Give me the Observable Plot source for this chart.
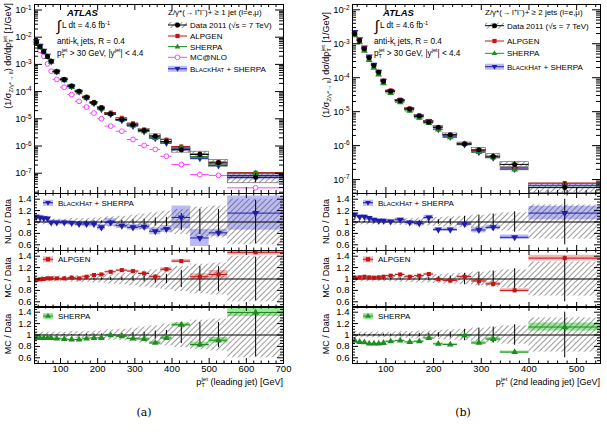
<!DOCTYPE html>
<html>
<head>
<meta charset="utf-8">
<script src="https://cdn.jsdelivr.net/npm/d3@7"></script>
<script src="https://cdn.jsdelivr.net/npm/@observablehq/plot@0.6"></script>
<style>
  body { margin: 0; background: #fff; }
  #fig { position: relative; width: 607px; height: 432px; overflow: hidden; }
  #fig svg { position: absolute; overflow: visible; }
</style>
</head>
<body>
<div id="fig"></div>
<script>
const FONT = "Liberation Sans, Arial, Helvetica, sans-serif";
const RED = "#c41414", RED_L = "#f6b4b4";
const GREEN = "#1f8c1f", GREEN_L = "#98e898";
const BLUE = "#1e1ea8", BLUE_L = "#babaf4";
const MAG = "#ff40ff";

// ---- (a) leading jet pT, Z + >= 1 jet ----
const edgesA = [30, 40, 50, 60, 70, 80, 100, 120, 140, 160, 180, 200, 220, 250, 280, 310, 340, 370, 400, 450, 500, 550, 700];
const dataA = [6.5e-3, 4.5e-3, 3.0e-3, 1.95e-3, 1.3e-3, 5.5e-4, 2.8e-4, 1.6e-4, 1.03e-4, 6.2e-5, 3.9e-5, 2.5e-5, 1.5e-5, 9.4e-6, 6.0e-6, 3.7e-6, 2.3e-6, 1.47e-6, 7.3e-7, 4.9e-7, 2.4e-7, 7.1e-8];
const systA = [0.05, 0.05, 0.05, 0.05, 0.05, 0.05, 0.05, 0.06, 0.06, 0.06, 0.07, 0.07, 0.09, 0.10, 0.12, 0.14, 0.16, 0.19, 0.22, 0.26, 0.28, 0.40];
const statA = [0.005, 0.005, 0.005, 0.005, 0.005, 0.005, 0.01, 0.01, 0.01, 0.015, 0.02, 0.02, 0.025, 0.03, 0.04, 0.05, 0.07, 0.08, 0.15, 0.22, 0.22, 0.38];
const mcnloA = [6.2e-3, 3.3e-3, 2.0e-3, 1.05e-3, 5.6e-4, 2.8e-4, 1.45e-4, 7.8e-5, 4.4e-5, 2.7e-5, 1.63e-5, 1.0e-5, 5.4e-6, 3.5e-6, 1.73e-6, 1.05e-6, 7.5e-7, 4.2e-7, 2.1e-7, 8.9e-8, 8.3e-8, 2.9e-8];
const bhRatioA = [1.092, 1.08, 1.065, 1.06, 0.993, 0.993, 0.993, 0.982, 0.965, 0.965, 0.965, 0.906, 0.993, 0.935, 0.906, 0.918, 0.837, 0.878, 1.08, 0.72, 0.81, 1.156];
const bhUncA = [0.04, 0.04, 0.04, 0.04, 0.04, 0.04, 0.04, 0.04, 0.04, 0.05, 0.05, 0.05, 0.07, 0.05, 0.05, 0.05, 0.06, 0.06, 0.20, 0.15, 0.06, 0.30];
const alpRatioA = [0.984, 0.994, 1.0, 1.011, 1.011, 1.011, 1.011, 1.023, 1.011, 1.04, 1.07, 1.08, 1.126, 1.155, 1.138, 1.097, 1.04, 1.17, 1.314, 1.04, 1.08, 1.468];
const alpUncA = [0.01, 0.01, 0.01, 0.01, 0.01, 0.01, 0.01, 0.01, 0.01, 0.01, 0.01, 0.01, 0.015, 0.015, 0.02, 0.02, 0.025, 0.03, 0.03, 0.05, 0.07, 0.05];
const sheRatioA = [0.948, 0.948, 0.948, 0.948, 0.948, 0.937, 0.931, 0.92, 0.92, 0.937, 0.948, 0.948, 0.995, 0.977, 0.937, 0.931, 0.861, 0.948, 1.18, 0.833, 0.908, 1.395];
const sheUncA = [0.01, 0.01, 0.01, 0.01, 0.01, 0.01, 0.01, 0.01, 0.01, 0.01, 0.01, 0.01, 0.015, 0.015, 0.02, 0.02, 0.025, 0.03, 0.03, 0.04, 0.05, 0.07];
const xTicksA = [100, 200, 300, 400, 500, 600, 700];
const yTicksA = [1e-1, 1e-2, 1e-3, 1e-4, 1e-5, 1e-6, 1e-7];

// ---- (b) second leading jet pT, Z + >= 2 jets ----
const edgesB = [30, 40, 50, 60, 70, 80, 90, 100, 120, 140, 160, 180, 200, 220, 250, 280, 310, 340, 400, 550];
const dataB = [1.96e-3, 1.25e-3, 7.1e-4, 3.9e-4, 2.3e-4, 1.45e-4, 7.9e-5, 4.0e-5, 2.1e-5, 1.2e-5, 7.4e-6, 4.9e-6, 3.5e-6, 2.1e-6, 1.12e-6, 7.5e-7, 4.9e-7, 2.8e-7, 5.8e-8];
const systB = [0.06, 0.05, 0.05, 0.05, 0.05, 0.05, 0.05, 0.05, 0.06, 0.06, 0.07, 0.07, 0.08, 0.09, 0.10, 0.12, 0.14, 0.16, 0.30];
const statB = [0.01, 0.01, 0.01, 0.01, 0.01, 0.01, 0.015, 0.015, 0.02, 0.02, 0.03, 0.03, 0.04, 0.05, 0.10, 0.12, 0.14, 0.18, 0.40];
const bhRatioB = [1.13, 1.092, 1.092, 1.07, 1.04, 1.023, 1.023, 1.01, 1.04, 0.993, 0.976, 1.08, 0.866, 0.866, 0.965, 0.86, 0.906, 0.732, 1.156];
const bhUncB = [0.03, 0.03, 0.03, 0.03, 0.03, 0.03, 0.03, 0.03, 0.03, 0.03, 0.04, 0.04, 0.03, 0.03, 0.03, 0.05, 0.04, 0.04, 0.12];
const alpRatioB = [1.02, 1.029, 1.04, 1.029, 1.023, 1.029, 1.04, 1.058, 1.08, 1.04, 1.058, 1.087, 0.994, 0.972, 1.04, 0.966, 0.915, 0.80, 1.366];
const alpUncB = [0.01, 0.01, 0.01, 0.01, 0.01, 0.01, 0.01, 0.01, 0.01, 0.01, 0.01, 0.015, 0.015, 0.02, 0.02, 0.03, 0.03, 0.03, 0.05];
const sheRatioB = [0.90, 0.878, 0.87, 0.85, 0.85, 0.85, 0.86, 0.89, 0.902, 0.878, 0.89, 0.948, 0.844, 0.833, 0.99, 0.861, 0.93, 0.70, 1.14];
const sheUncB = [0.01, 0.01, 0.01, 0.01, 0.01, 0.01, 0.01, 0.01, 0.01, 0.01, 0.01, 0.015, 0.015, 0.02, 0.02, 0.03, 0.03, 0.02, 0.07];
const xTicksB = [100, 200, 300, 400, 500];
const yTicksB = [1e-2, 1e-3, 1e-4, 1e-5, 1e-6, 1e-7];

const ratioTicks = [0.6, 0.8, 1, 1.2, 1.4];

function rowsOf(edges, cols) {
  return edges.slice(0, -1).map((lo, i) => {
    const r = {lo, hi: edges[i + 1], c: (lo + edges[i + 1]) / 2};
    for (const [k, arr] of Object.entries(cols)) r[k] = arr ? arr[i] : undefined;
    return r;
  });
}

// inverted triangle marker
const triangleDown = {
  draw(ctx, size) {
    const y = -Math.sqrt(size / (Math.sqrt(3) * 3));
    ctx.moveTo(0, -y * 2);
    ctx.lineTo(-Math.sqrt(3) * y, y);
    ctx.lineTo(Math.sqrt(3) * y, y);
    ctx.closePath();
  }
};

const figA = {
  left: 0, width: 300, mr: 17, xMax: 700, xTicks: xTicksA, yTicks: yTicksA,
  yDomain: [10 ** -7.746, 10 ** -0.798], mcnlo: true,
  rows: rowsOf(edgesA, {data: dataA, syst: systA, stat: statA, mcnlo: mcnloA, bh: bhRatioA, bhU: bhUncA, alp: alpRatioA, alpU: alpUncA, she: sheRatioA, sheU: sheUncA})
};
const figB = {
  left: 318, width: 289, mr: 7, xMax: 550, xTicks: xTicksB, yTicks: yTicksB,
  yDomain: [10 ** -7.41, 10 ** -1.844], mcnlo: false,
  rows: rowsOf(edgesB, {data: dataB, syst: systB, stat: statB, bh: bhRatioB, bhU: bhUncB, alp: alpRatioB, alpU: alpUncB, she: sheRatioB, sheU: sheUncB})
};

const ML = 34;

function tickMarks(innerW, innerH, xMaj, xMin, yMaj, yMin, L) {
  const s = {stroke: "black", strokeWidth: 1};
  return [
    Plot.ruleX(xMaj, {x: d => d, insetTop: innerH - L[0], ...s}),
    Plot.ruleX(xMaj, {x: d => d, insetBottom: innerH - L[0], ...s}),
    Plot.ruleX(xMin, {x: d => d, insetTop: innerH - L[1], ...s}),
    Plot.ruleX(xMin, {x: d => d, insetBottom: innerH - L[1], ...s}),
    Plot.ruleY(yMaj, {y: d => d, insetRight: innerW - L[2], ...s}),
    Plot.ruleY(yMaj, {y: d => d, insetLeft: innerW - L[2], ...s}),
    Plot.ruleY(yMin, {y: d => d, insetRight: innerW - L[3], ...s}),
    Plot.ruleY(yMin, {y: d => d, insetLeft: innerW - L[3], ...s})
  ];
}

function xTickSets(f) {
  const xMaj = f.xTicks.filter(v => v < f.xMax);
  const xMin = d3.range(40, f.xMax, 20).filter(v => v % 100 !== 0);
  return [xMaj, xMin];
}

function superscriptLabels(svg) {
  const ns = "http://www.w3.org/2000/svg";
  svg.querySelectorAll("text").forEach(t => {
    const m = /^10\^(-?\d+)$/.exec(t.textContent);
    if (!m) return;
    t.textContent = "";
    const a = document.createElementNS(ns, "tspan");
    a.textContent = "10";
    const b = document.createElementNS(ns, "tspan");
    b.textContent = m[1];
    b.setAttribute("dy", "-0.5em");
    b.setAttribute("font-size", "68%");
    t.append(a, b);
  });
}

function place(svg, left, top) {
  svg.style.left = left + "px";
  svg.style.top = top + "px";
  document.getElementById("fig").appendChild(svg);
}

function mainPlot(f) {
  const H = 193, MT = 4;
  const innerW = f.width - ML - f.mr, innerH = H - MT;
  const R = f.rows;
  const [y0, y1] = f.yDomain;
  const yMaj = f.yTicks.filter(v => v > y0 && v < y1);
  const yMin = [];
  for (let e = -9; e <= 0; e++) for (let m = 2; m <= 9; m++) {
    const v = m * 10 ** e;
    if (v > y0 && v < y1) yMin.push(v);
  }
  const [xMaj, xMin] = xTickSets(f);
  const marks = [
    Plot.rect(R, {x1: "lo", x2: "hi", y1: d => d.data * d.bh * (1 - d.bhU), y2: d => d.data * d.bh * (1 + d.bhU), fill: BLUE_L}),
    Plot.rect(R, {x1: "lo", x2: "hi", y1: d => d.data * (1 - d.syst), y2: d => d.data * (1 + d.syst), fill: "url(#hatch)", stroke: "#555", strokeWidth: 0.6})
  ];
  if (f.mcnlo) {
    marks.push(
      Plot.ruleY(R, {x1: "lo", x2: "hi", y: "mcnlo", stroke: MAG, strokeWidth: 1}),
      Plot.dot(R, {x: "c", y: "mcnlo", r: 2.4, stroke: MAG, fill: "white", strokeWidth: 1})
    );
  }
  marks.push(
    Plot.ruleY(R, {x1: "lo", x2: "hi", y: d => d.data * d.bh, stroke: BLUE, strokeWidth: 1}),
    Plot.ruleY(R, {x1: "lo", x2: "hi", y: d => d.data * d.alp, stroke: RED, strokeWidth: 1}),
    Plot.ruleY(R, {x1: "lo", x2: "hi", y: d => d.data * d.she, stroke: GREEN, strokeWidth: 1}),
    Plot.dot(R, {x: "c", y: d => d.data * d.bh, r: 2.6, symbol: triangleDown, fill: BLUE}),
    Plot.dot(R, {x: "c", y: d => d.data * d.alp, r: 2.3, symbol: "square", fill: RED}),
    Plot.dot(R, {x: "c", y: d => d.data * d.she, r: 2.5, symbol: "triangle", fill: GREEN}),
    Plot.ruleY(R, {x1: "lo", x2: "hi", y: "data", stroke: "black", strokeWidth: 1}),
    Plot.ruleX(R, {x: "c", y1: d => d.data * (1 - d.stat), y2: d => d.data * (1 + d.stat), stroke: "black"}),
    Plot.dot(R, {x: "c", y: "data", r: 2.5, fill: "black"}),
    ...tickMarks(innerW, innerH, xMaj, xMin, yMaj, yMin, [6, 3, 8, 4]),
    Plot.frame({stroke: "black", strokeWidth: 1}),
    Plot.axisY(yMaj, {anchor: "left", label: null, tickSize: 0, tickPadding: 3, fontSize: 9.5, tickFormat: d => "10^" + Math.round(Math.log10(d))})
  );
  const svg = Plot.plot({
    width: f.width, height: H, marginTop: MT, marginBottom: 0, marginLeft: ML, marginRight: f.mr,
    style: {fontFamily: FONT, fontSize: "9px", color: "black", background: "transparent"},
    x: {domain: [30, f.xMax], axis: null},
    y: {type: "log", domain: f.yDomain, axis: null},
    marks
  });
  superscriptLabels(svg);
  place(svg, f.left, 0);
}

function ratioPlot(f, key, uKey, color, light, symbol, r, top, bottom) {
  const PH = 57, MB = bottom ? 40 : 0;
  const innerW = f.width - ML - f.mr;
  const R = f.rows;
  const [xMaj, xMin] = xTickSets(f);
  const yMin = d3.range(0.55, 1.5, 0.05).map(v => +v.toFixed(2)).filter(v => !ratioTicks.some(t => Math.abs(t - v) < 1e-6));
  const marks = [
    Plot.rect(R, {x1: "lo", x2: "hi", y1: d => d[key] - d[uKey], y2: d => d[key] + d[uKey], fill: light, clip: true}),
    Plot.rect(R, {x1: "lo", x2: "hi", y1: d => 1 - d.syst, y2: d => 1 + d.syst, fill: "url(#hatch)", clip: true}),
    Plot.ruleY([1], {stroke: "black", strokeWidth: 1}),
    Plot.ruleX(R, {x: "c", y1: d => 1 - d.stat, y2: d => 1 + d.stat, stroke: "black", strokeWidth: 1, clip: true}),
    Plot.ruleY(R, {x1: "lo", x2: "hi", y: key, stroke: color, strokeWidth: 1, clip: true}),
    Plot.dot(R, {x: "c", y: key, r, symbol, fill: color, clip: true}),
    ...tickMarks(innerW, PH, xMaj, xMin, ratioTicks, yMin, [5, 2.5, 6, 3]),
    Plot.frame({stroke: "black", strokeWidth: 1}),
    Plot.axisY(ratioTicks, {anchor: "left", label: null, tickSize: 0, tickPadding: 3, fontSize: 9.5, tickFormat: d => String(d)})
  ];
  if (bottom) marks.push(Plot.axisX(f.xTicks, {anchor: "bottom", label: null, tickSize: 0, tickPadding: 2, fontSize: 9.5, tickFormat: d => String(d)}));
  const svg = Plot.plot({
    width: f.width, height: PH + MB, marginTop: 0, marginBottom: MB, marginLeft: ML, marginRight: f.mr,
    style: {fontFamily: FONT, fontSize: "9px", color: "black", background: "transparent"},
    x: {domain: [30, f.xMax], axis: null},
    y: {domain: [0.5, 1.5], axis: null},
    marks
  });
  place(svg, f.left, top);
}

for (const f of [figA, figB]) {
  mainPlot(f);
  ratioPlot(f, "bh", "bhU", BLUE, BLUE_L, triangleDown, 2.6, 193, false);
  ratioPlot(f, "alp", "alpU", RED, RED_L, "square", 2.3, 249.5, false);
  ratioPlot(f, "she", "sheU", GREEN, GREEN_L, "triangle", 2.5, 305.5, true);
}

// ---- text layer: labels, legends, annotations ----
const over = d3.select("#fig").append("svg")
  .attr("width", 607).attr("height", 432)
  .style("left", "0px").style("top", "0px")
  .attr("font-family", FONT);

const defs = over.append("defs");
defs.append("pattern").attr("id", "hatch")
  .attr("patternUnits", "userSpaceOnUse").attr("width", 4).attr("height", 4)
  .attr("patternTransform", "rotate(45)")
  .append("line").attr("x1", 0).attr("y1", 0).attr("x2", 0).attr("y2", 4)
  .attr("stroke", "#3a3a3a").attr("stroke-width", 1);

function rich(x, y, parts, o = {}) {
  const size = o.size ?? 8;
  const t = over.append("text").attr("x", x).attr("y", y)
    .attr("font-size", size).attr("text-anchor", o.anchor ?? "start")
    .attr("font-family", o.family ?? FONT)
    .style("white-space", "pre");
  if (o.weight) t.attr("font-weight", o.weight);
  if (o.italic) t.attr("font-style", "italic");
  if (o.rotate) t.attr("transform", `rotate(${o.rotate} ${x} ${y})`);
  let cur = 0;
  for (const p of parts) {
    const [s, kind, dx] = Array.isArray(p) ? p : [p];
    const shift = kind === "sup" ? -0.42 * size : kind === "sub" ? 0.28 * size : 0;
    const fs = (kind === "sup" || kind === "sub") ? size * 0.68 : kind === "sc" ? size * 0.76 : size;
    const ts = t.append("tspan").attr("font-size", fs).attr("dy", shift - cur).text(s);
    if (dx) ts.attr("dx", dx);
    cur = shift;
  }
  return t;
}

const ptJet = ["p", ["T", "sub"], ["jet", "sup", -3.5]];
const yTitle = ["(1/σ", ["Z/γ*→ ll", "sub"], ") dσ/dp", ["T", "sub"], ["jet", "sup", -3.5], " [1/GeV]"];
const bhLabel = ["B", ["LACK", "sc"], "H", ["AT", "sc"], " + SHERPA"];

function symbolAt(x, y, kind, color) {
  const g = over.append("g");
  if (kind === "circle") g.append("circle").attr("cx", x).attr("cy", y).attr("r", 2.5).attr("fill", color);
  if (kind === "open") g.append("circle").attr("cx", x).attr("cy", y).attr("r", 2.4).attr("fill", "white").attr("stroke", color);
  if (kind === "square") g.append("rect").attr("x", x - 2.1).attr("y", y - 2.1).attr("width", 4.2).attr("height", 4.2).attr("fill", color);
  if (kind === "tri") g.append("path").attr("d", `M${x},${y - 3} L${x + 2.8},${y + 1.8} L${x - 2.8},${y + 1.8}Z`).attr("fill", color);
  if (kind === "triDown") g.append("path").attr("d", `M${x},${y + 3} L${x + 2.8},${y - 1.8} L${x - 2.8},${y - 1.8}Z`).attr("fill", color);
}

function legendRow(x0, x1, y, kind, color, band, hatch) {
  if (band) over.append("rect").attr("x", x0).attr("y", y - 3).attr("width", x1 - x0).attr("height", 6).attr("fill", band);
  if (hatch) over.append("rect").attr("x", x0).attr("y", y - 3).attr("width", x1 - x0).attr("height", 6).attr("fill", "url(#hatch)");
  over.append("line").attr("x1", x0).attr("x2", x1).attr("y1", y).attr("y2", y).attr("stroke", color);
  symbolAt((x0 + x1) / 2, y, kind, color);
}

function figureText(f, o) {
  const L = f.left;
  // experiment label block
  rich(L + o.atlasX, 16, ["ATLAS"], {size: 9.5, weight: "bold", italic: true});
  rich(L + o.intX, 31, ["∫"], {size: 15});
  rich(L + o.intX + 5.5, 28, ["L dt = 4.6 fb", ["-1", "sup"]], {size: 8.2});
  rich(L + o.textX, 44, ["anti-k", ["t", "sub"], " jets, R = 0.4"], {size: 8.2});
  rich(L + o.textX, 55.5, ["p", ["T", "sub"], ["jet", "sup", -3.3], " > 30 GeV, |y", ["jet", "sup"], "| < 4.4"], {size: 8.2});
  // legend
  rich(L + o.legX, 15, ["Z/γ*(→ l", ["+", "sup"], "l", ["−", "sup"], ")+ ≥ " + o.nj], {size: 8});
  const sx0 = L + o.legX, sx1 = L + o.legX + 19, tx = L + o.legX + 22;
  const ys = o.legY;
  legendRow(sx0, sx1, ys[0], "circle", "black", null, true);
  rich(tx, ys[0] + 2.9, ["Data 2011 (√s = 7 TeV)"], {size: 8});
  legendRow(sx0, sx1, ys[1], "square", RED);
  rich(tx, ys[1] + 2.9, ["ALPGEN"], {size: 8});
  legendRow(sx0, sx1, ys[2], "tri", GREEN);
  rich(tx, ys[2] + 2.9, ["SHERPA"], {size: 8});
  let k = 3;
  if (f.mcnlo) {
    legendRow(sx0, sx1, ys[3], "open", MAG);
    rich(tx, ys[3] + 2.9, ["MC@NLO"], {size: 8});
    k = 4;
  }
  legendRow(sx0, sx1, ys[k], "triDown", BLUE, BLUE_L);
  rich(tx, ys[k] + 2.9, bhLabel, {size: 8});

  // ratio panel legends
  const rx0 = L + o.rLegX, rx1 = rx0 + 10, rtx = rx0 + 15;
  legendRow(rx0, rx1, 202.7, "triDown", BLUE, BLUE_L);
  rich(rtx, 205.6, bhLabel, {size: 8});
  legendRow(rx0, rx1, 259.3, "square", RED, RED_L);
  rich(rtx, 262.2, ["ALPGEN"], {size: 8});
  legendRow(rx0, rx1, 316, "tri", GREEN, GREEN_L);
  rich(rtx, 318.9, ["SHERPA"], {size: 8});

  // axis titles
  rich(L + 10.5, o.yTitleTop, yTitle, {size: 9, rotate: -90, anchor: "end"});
  rich(L + 10.5, 221.5, ["NLO / Data"], {size: 9, rotate: -90, anchor: "middle"});
  rich(L + 10.5, 277.5, ["MC / Data"], {size: 9, rotate: -90, anchor: "middle"});
  rich(L + 10.5, 334, ["MC / Data"], {size: 9, rotate: -90, anchor: "middle"});
  rich(L + f.width - f.mr, 384.5, [...ptJet, o.xTitle], {size: 9, anchor: "end"});
  rich(L + o.capX, 416, [o.cap], {size: 11, anchor: "middle", family: "DejaVu Serif, Liberation Serif, serif"});
}

figureText(figA, {
  atlasX: 67, intX: 56.5, textX: 57, legX: 168, nj: "1 jet (l=e,μ)",
  legY: [25, 36, 46.6, 57.3, 68.8], rLegX: 43, yTitleTop: 3,
  xTitle: " (leading jet) [GeV]", capX: 144, cap: "(a)"
});
figureText(figB, {
  atlasX: 65, intX: 56.5, textX: 56, legX: 167, nj: "2 jets (l=e,μ)",
  legY: [25.7, 41, 53.3, 66.7], rLegX: 45, yTitleTop: 12,
  xTitle: " (2nd leading jet) [GeV]", capX: 145, cap: "(b)"
});
</script>
</body>
</html>
